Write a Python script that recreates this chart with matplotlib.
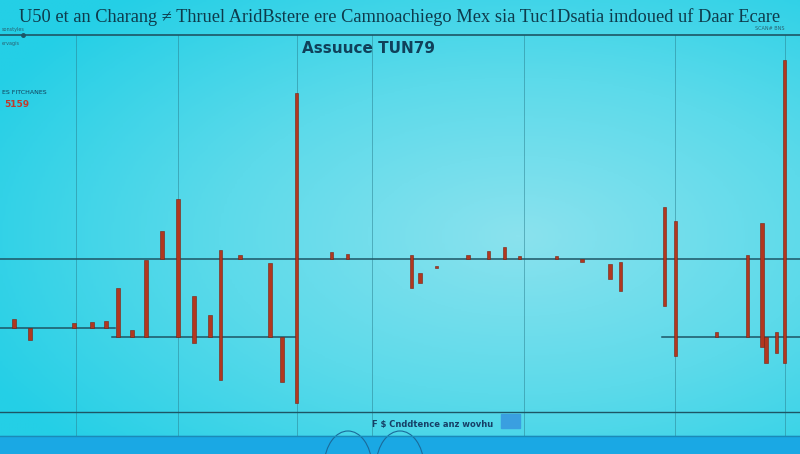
import matplotlib
matplotlib.use("Agg")
import matplotlib.pyplot as plt
import numpy as np
from matplotlib.colors import LinearSegmentedColormap
from matplotlib.patches import Arc, Rectangle

# periods (x) and open/close levels of each floating bar
periods = [1.75, 3.75, 9.25, 11.5, 13.25, 14.75, 16.5, 18.25, 20.25, 22.25,
           24.25, 26.25, 27.6, 30.0, 33.75, 35.25, 37.1, 41.4, 43.4, 51.4,
           52.5, 54.6, 58.5, 61.1, 63.1, 64.9, 69.6, 72.75, 76.25, 77.6,
           83.1, 84.4, 89.6, 93.4, 95.25, 95.75, 97.1, 98.1]
opens = [-15.0, -17.25, -16.0, -15.75, -15.5, -7.25, -17.75, -0.25, 7.0, 15.0,
         -9.25, -14.0, 2.25, 1.0, -1.0, -19.5, 41.5, 1.75, 1.25, 1.0,
         -3.5, -1.75, 1.0, 2.0, 3.0, 0.75, 0.75, 0.0, -1.25, -0.75,
         13.0, 9.5, -18.25, 1.0, 9.0, -19.5, -18.25, 49.75]
closes = [-17.25, -20.25, -17.25, -17.25, -17.25, -19.5, -19.5, -19.5, 0.0, -19.5,
          -21.0, -19.5, -30.25, 0.0, -19.5, -30.75, -36.0, 0.0, 0.0, -7.25,
          -6.0, -2.25, 0.0, 0.0, 0.0, 0.0, 0.0, -0.75, -5.0, -8.0,
          -11.75, -24.25, -19.5, -19.5, -22.0, -26.0, -23.5, -26.0]

# reference levels: (level, from period, to period)
levels = [(0.0, 0, 100), (-17.25, 0, 14.4), (-19.5, 14.0, 37.1), (-19.5, 82.75, 100)]
grid_periods = [9.5, 22.25, 37.1, 46.5, 65.5, 84.4, 98.1]

title = "U50 et an Charang \u2260 Thruel AridBstere ere Camnoachiego Mex sia Tuc1Dsatia imdoued uf Daar Ecare"
subtitle = "Assuuce TUN79"
legend_label = "F $ Cnddtence anz wovhu"

line_col = "#1d5565"
bar_col = "#b2371f"

fig = plt.figure(figsize=(8, 4.54), dpi=100)
ax = fig.add_axes([0, 0, 1, 1])
ax.set_xlim(0, 100)
ax.set_ylim(-48.75, 64.75)
ax.axis("off")

# background gradient
yy, xx = np.mgrid[0:1:200j, 0:1:300j]
r = np.sqrt(((xx - 0.65) / 0.75) ** 2 + ((yy - 0.52) / 0.7) ** 2)
cmap = LinearSegmentedColormap.from_list("bg", ["#8ae2ee", "#5cdaea", "#24cfe6"])
ax.imshow(np.clip(r, 0, 1), cmap=cmap, extent=(0, 100, -48.75, 64.75),
          aspect="auto", origin="upper", zorder=0)

# bottom band
ax.add_patch(Rectangle((0, -48.75), 100, 4.5, color="#1aa8e4", zorder=1))
ax.add_patch(Arc((43.5, -52), 6, 18, theta1=15, theta2=165, color="#1a6a9a", lw=0.8, zorder=2))
ax.add_patch(Arc((50.0, -52), 6, 18, theta1=15, theta2=165, color="#1a6a9a", lw=0.8, zorder=2))

for gx in grid_periods:
    ax.plot([gx, gx], [-44.25, 56], color="#2a7f8f", lw=0.6, alpha=0.6, zorder=1)

ax.plot([0, 100], [56, 56], color=line_col, lw=1.2, zorder=2)
ax.plot([0, 100], [-38.25, -38.25], color=line_col, lw=1.0, zorder=2)
ax.plot([0, 100], [-44.25, -44.25], color="#1b8ab8", lw=1.0, zorder=2)
for lv, x0, x1 in levels:
    ax.plot([x0, x1], [lv, lv], color=line_col, lw=1.1, zorder=2)

bottoms = np.minimum(opens, closes)
heights = np.abs(np.array(opens) - np.array(closes))
ax.bar(periods, heights, bottom=bottoms, width=0.4, color=bar_col,
       edgecolor="#7a2010", linewidth=0.4, zorder=3)

ax.text(50, 60.5, title, ha="center", va="center", fontsize=13.2,
        family="Liberation Serif", color="#0e3b4c", zorder=4)
ax.text(37.7, 52.6, subtitle, ha="left", va="center", fontsize=11,
        family="DejaVu Sans", fontweight="bold", color="#10405a", zorder=4)
ax.text(0.2, 41.5, "ES FITCHANES", fontsize=4.5, color="#10405a", va="center", zorder=4)
ax.text(0.5, 38.7, "5159", fontsize=6.5, color="#c0392b", fontweight="bold", va="center", zorder=4)
ax.text(0.2, 57.5, "sonstyles", fontsize=3.5, color="#2a6070", va="center", zorder=4)
ax.text(0.2, 54.0, "ervagis", fontsize=3.5, color="#2a6070", va="center", zorder=4)
ax.plot([2.9], [56], "o", color=line_col, ms=2.5, zorder=4)
ax.text(94.4, 57.5, "SCAN# BNS", fontsize=3.5, color="#2a6070", va="center", zorder=4)

ax.text(46.5, -41.3, legend_label, fontsize=6, fontweight="bold", color="#163f66",
        va="center", ha="left", zorder=4)
ax.add_patch(Rectangle((62.6, -42.25), 2.4, 3.5, color="#3a9fe0", zorder=4))

fig.savefig("out.png", dpi=100)
